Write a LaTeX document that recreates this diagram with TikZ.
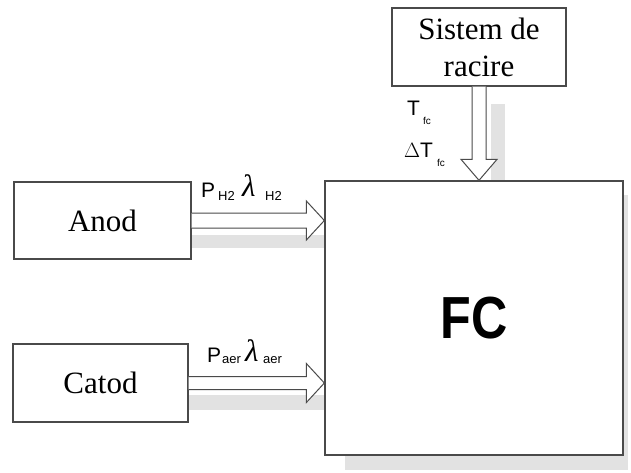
\documentclass[tikz,border=0pt]{standalone}
\usepackage{fontspec}
\setmainfont{Liberation Serif}
\newfontfamily\arialf{Liberation Sans}
\usetikzlibrary{calc}
\definecolor{edge}{HTML}{4A4A4A}
\definecolor{shade}{HTML}{E2E2E2}
\begin{document}
\begin{tikzpicture}[x=1pt,y=-1pt,
  blockbox/.style={draw=edge,line width=1.3pt,fill=white,inner sep=0pt,rectangle},
  hollow/.style={draw=edge,line width=1pt,fill=white,line join=miter},
  shadowfill/.style={fill=shade,draw=none},
  lab/.style={inner sep=0pt,anchor=base west,font=\arialf\fontsize{21}{24}\selectfont},
  sublab/.style={inner sep=0pt,anchor=base west,font=\arialf\fontsize{13}{15}\selectfont},
  tinysub/.style={inner sep=0pt,anchor=base west,font=\arialf\fontsize{10}{12}\selectfont},
  lam/.style={inner sep=0pt,anchor=base west,font=\itshape\fontsize{31}{34}\selectfont}]
\useasboundingbox (0,0) rectangle (631,472);
\fill[white] (0,0) rectangle (631,472);

% shadows
\fill[shadowfill] (345,455) rectangle (628,470);
\fill[shadowfill] (623,195) rectangle (628,470);
\fill[shadowfill] (491,104) rectangle (505,181);
\fill[shadowfill] (192,235) rectangle (325,248);
\fill[shadowfill] (188,395) rectangle (325,410);

% blocks
\node[blockbox,minimum width=298,minimum height=274] (fc) at (474,318)
  {\arialf\bfseries\fontsize{54}{58}\selectfont\scalebox{0.93}[1.1]{FC}};
\node[blockbox,minimum width=177,minimum height=77,font=\fontsize{31}{36}\selectfont] (anod) at (102.5,220.5)
  {Anod};
\node[blockbox,minimum width=175,minimum height=78,font=\fontsize{31}{36}\selectfont] (catod) at (100.5,383)
  {Catod};
\node[blockbox,minimum width=174,minimum height=78,align=center,font=\fontsize{31}{37}\selectfont] (racire) at (479,47)
  {Sistem de\\racire};

% hollow arrows
\coordinate (ta) at (anod.east -| fc.west);
\draw[hollow] ([yshift=7.5pt]anod.east) -- ([xshift=-18pt,yshift=7.5pt]ta)
  -- ([xshift=-18pt,yshift=19.5pt]ta) -- (ta) -- ([xshift=-18pt,yshift=-19.5pt]ta)
  -- ([xshift=-18pt,yshift=-7.5pt]ta) -- ([yshift=-7.5pt]anod.east);

\coordinate (tc) at (catod.east -| fc.west);
\draw[hollow] ([yshift=6.5pt]catod.east) -- ([xshift=-18pt,yshift=6.5pt]tc)
  -- ([xshift=-18pt,yshift=19.5pt]tc) -- (tc) -- ([xshift=-18pt,yshift=-19.5pt]tc)
  -- ([xshift=-18pt,yshift=-6.5pt]tc) -- ([yshift=-6.5pt]catod.east);

\coordinate (tr) at (racire.south |- fc.north);
\draw[hollow] ([xshift=-7pt]racire.south) -- ([xshift=-7pt,yshift=21pt]tr)
  -- ([xshift=-18pt,yshift=21pt]tr) -- (tr) -- ([xshift=18pt,yshift=21pt]tr)
  -- ([xshift=7pt,yshift=21pt]tr) -- ([xshift=7pt]racire.south);

% labels
\node[lab] (ph) at (201,197) {P};
\node[sublab] (phs) at (218,200) {H2};
\node[lam] (lh) at (242,196) {λ};
\node[sublab] (lhs) at (265,200) {H2};

\node[lab] (pa) at (207,362) {P};
\node[sublab] (pas) at (222,363) {aer};
\node[lam] (la) at (245,361) {λ};
\node[sublab] (las) at (263,363) {aer};

\node[lab] (tf) at (407,115) {T};
\node[tinysub] (tfs) at (423,124) {fc};
\node[lab] (dt) at (404,157) {$\Delta$T};
\node[tinysub] (dts) at (437,166) {fc};
\end{tikzpicture}
\end{document}
